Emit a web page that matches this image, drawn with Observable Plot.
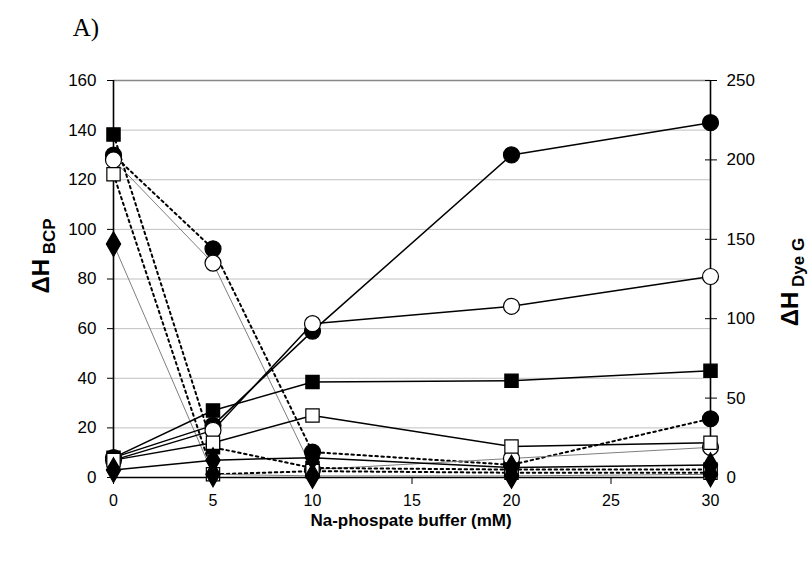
<!DOCTYPE html>
<html>
<head>
<meta charset="utf-8">
<script src="https://cdn.jsdelivr.net/npm/d3@7"></script>
<script src="https://cdn.jsdelivr.net/npm/@observablehq/plot@0.6"></script>
<style>
  html, body { margin: 0; padding: 0; background: #fff; }
  #chart { position: relative; width: 808px; height: 561px; }
</style>
</head>
<body>
<div id="chart"></div>
<script>
// Na-phosphate buffer concentrations (mM)
const buffer = [0, 5, 10, 20, 30];

// ΔH BCP (left axis)
const bcpFilledCircle = [8, 21, 59, 130, 143];
const bcpOpenCircle   = [7, 19, 62, 69, 81];
const bcpFilledSquare = [8, 27, 38.5, 39, 43];
const bcpOpenSquare   = [7, 14, 25, 12.5, 14];
const bcpDiamond      = [3, 7, 8, 4, 5];

// ΔH Dye G (right axis)
const dyeFilledCircle = [203, 144, 16, 8, 37];
const dyeOpenCircle   = [200, 135, 5, 12, 19];
const dyeFilledSquare = [216, 19, 6, 5, 5];
const dyeOpenSquare   = [191, 2, 4, 3, 3];
const dyeDiamond      = [147, 2, 1, 1, 2];

const leftTicks = [0, 20, 40, 60, 80, 100, 120, 140, 160];
const rightTicks = [0, 50, 100, 150, 200, 250];
const xTicks = [0, 5, 10, 15, 20, 25, 30];

const ratio = 160 / 250;
const toRows = (vals, scale = 1) => vals.map((v, i) => ({x: buffer[i], y: v * scale}));

const bcp = [
  {rows: toRows(bcpFilledCircle), symbol: "circle", fill: "black", r: 8},
  {rows: toRows(bcpOpenCircle), symbol: "circle", fill: "white", r: 8},
  {rows: toRows(bcpFilledSquare), symbol: "square", fill: "black", r: 7.5},
  {rows: toRows(bcpOpenSquare), symbol: "square", fill: "white", r: 7.5},
  {rows: toRows(bcpDiamond), symbol: "diamond", fill: "black", r: 7.5}
];
const dye = [
  {rows: toRows(dyeFilledCircle, ratio), symbol: "circle", fill: "black", r: 8, style: "dot"},
  {rows: toRows(dyeOpenCircle, ratio), symbol: "circle", fill: "white", r: 8, style: "gray"},
  {rows: toRows(dyeFilledSquare, ratio), symbol: "square", fill: "black", r: 7.5, style: "dot"},
  {rows: toRows(dyeOpenSquare, ratio), symbol: "square", fill: "white", r: 7.5, style: "dot"},
  {rows: toRows(dyeDiamond, ratio), symbol: "diamond", fill: "black", r: 7.5, style: "gray"}
];

const marks = [
  Plot.ruleY(leftTicks.filter(d => d > 0 && d < 160), {stroke: "#c0c0c0", strokeWidth: 1}),
  Plot.ruleY([160], {stroke: "#888", strokeWidth: 1.5}),
  // left axis
  Plot.axisY(leftTicks, {anchor: "left", tickSize: 6, tickPadding: 11, fontSize: 17, label: null}),
  // right axis: crossing ticks and labels
  Plot.axisY(rightTicks.map(d => d * ratio), {anchor: "right", tickSize: 12, dx: -6, text: null, label: null}),
  Plot.axisY(rightTicks.map(d => d * ratio), {anchor: "right", tickSize: 0, tickPadding: 16, fontSize: 17, tickFormat: d => Math.round(d / ratio), label: null}),
  // x axis
  Plot.axisX(xTicks, {anchor: "bottom", tickSize: 7, tickPadding: 10, fontSize: 16, label: null}),
  Plot.ruleX([0], {strokeWidth: 1.6}),
  Plot.ruleX([30], {strokeWidth: 1.6}),
  Plot.ruleY([0], {strokeWidth: 1.6})
];

for (const s of dye) {
  if (s.style === "gray") {
    marks.push(Plot.line(s.rows, {x: "x", y: "y", stroke: "#7f7f7f", strokeWidth: 1}));
  } else {
    marks.push(Plot.line(s.rows, {x: "x", y: "y", stroke: "black", strokeWidth: 2, strokeDasharray: "2.5,3.5"}));
  }
}
for (const s of bcp) {
  marks.push(Plot.line(s.rows, {x: "x", y: "y", stroke: "black", strokeWidth: 1.5}));
}
for (const s of [...dye, ...bcp]) {
  marks.push(Plot.dot(s.rows, {x: "x", y: "y", symbol: s.symbol, fill: s.fill, stroke: "black", strokeWidth: 1.2, r: s.r}));
}

const svg = Plot.plot({
  width: 808,
  height: 561,
  marginLeft: 113,
  marginRight: 98,
  marginTop: 80,
  marginBottom: 84,
  x: {domain: [0, 30]},
  y: {domain: [0, 160]},
  style: {fontFamily: "'Liberation Sans', Arial, sans-serif", fontSize: "15px", color: "black", background: "white"},
  marks
});

const root = d3.select(svg);
// Panel label
root.append("text")
  .attr("x", 86).attr("y", 36)
  .attr("font-family", "'Liberation Serif', 'Times New Roman', serif")
  .attr("font-size", 25)
  .attr("fill", "black")
  .text("A)");
// x title
root.append("text")
  .attr("x", 411).attr("y", 526)
  .attr("text-anchor", "middle")
  .attr("font-weight", "bold")
  .attr("font-size", 17)
  .attr("fill", "black")
  .text("Na-phospate buffer (mM)");
// left title
const lt = root.append("text")
  .attr("transform", "translate(49,256) rotate(-90)")
  .attr("text-anchor", "middle")
  .attr("font-weight", "bold")
  .attr("font-size", 24)
  .attr("fill", "black");
lt.append("tspan").text("ΔH");
lt.append("tspan").attr("font-size", 17).attr("dy", 6).text(" BCP");
// right title
const rt = root.append("text")
  .attr("transform", "translate(798,282) rotate(-90)")
  .attr("text-anchor", "middle")
  .attr("font-weight", "bold")
  .attr("font-size", 24)
  .attr("fill", "black");
rt.append("tspan").text("ΔH");
rt.append("tspan").attr("font-size", 17).attr("dy", 6).text(" Dye G");

document.getElementById("chart").appendChild(svg);
</script>
</body>
</html>
